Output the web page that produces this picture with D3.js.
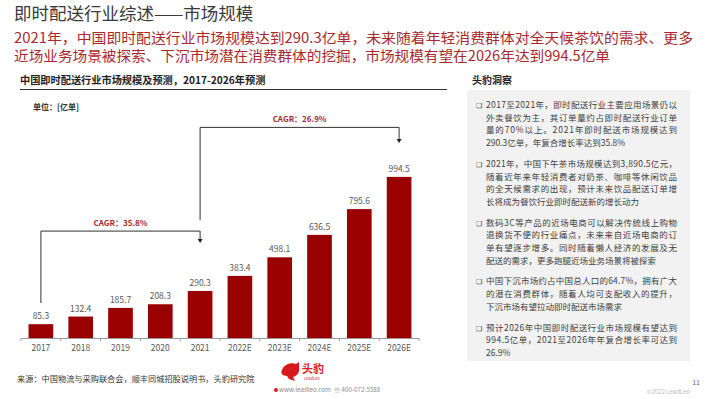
<!DOCTYPE html>
<html>
<head>
<meta charset="utf-8">
<script src="https://cdn.jsdelivr.net/npm/d3@7"></script>
<style>
  body { margin: 0; background: #fff; }
  text { font-family: "Noto Sans CJK SC", "Noto Sans", sans-serif; }
</style>
</head>
<body>
<script>
// chart data
const years = ['2017', '2018', '2019', '2020', '2021', '2022E', '2023E', '2024E', '2025E', '2026E'];
const orders = [85.3, 132.4, 185.7, 208.3, 290.3, 383.4, 498.1, 636.5, 795.6, 994.5];

const cagrText = ['CAGR：35.8%', 'CAGR：26.9%'];
const cagrFrom = ['2017', '2021'];
const cagrTo = ['2021', '2026E'];

const titleText = '即时配送行业综述——市场规模';
const summaryLines = [
    '2021年，中国即时配送行业市场规模达到290.3亿单，未来随着年轻消费群体对全天候茶饮的需求、更多',
    '近场业务场景被探索、下沉市场潜在消费群体的挖掘，市场规模有望在2026年达到994.5亿单'
];
const chartTitle = '中国即时配送行业市场规模及预测，2017-2026年预测';
const unitText = '单位：[亿单]';

const insightTitle = '头豹洞察';
const insights = [
    ['2017至2021年，即时配送行业主要应用场景仍以',
     '外卖餐饮为主，其订单量约占即时配送行业订单',
     '量的70%以上。2021年即时配送市场规模达到',
     '290.3亿单，年复合增长率达到35.8%'],
    ['2021年，中国下午茶市场规模达到3,890.5亿元，',
     '随着近年来年轻消费者对奶茶、咖啡等休闲饮品',
     '的全天候需求的出现，预计未来饮品配送订单增',
     '长将成为餐饮行业即时配送新的增长动力'],
    ['数码3C等产品的近场电商可以解决传统线上购物',
     '退换货不便的行业痛点，未来来自近场电商的订',
     '单有望逐步增多。同时随着懒人经济的发展及无',
     '配送的需求，更多跑腿近场业务场景将被探索'],
    ['中国下沉市场约占中国总人口的64.7%，拥有广大',
     '的潜在消费群体，随着人均可支配收入的提升，',
     '下沉市场有望拉动即时配送市场需求'],
    ['预计2026年中国即时配送行业市场规模有望达到',
     '994.5亿单，2021至2026年年复合增长率可达到',
     '26.9%']
];

const sourceText = '来源：中国物流与采购联合会，顺丰同城招股说明书，头豹研究院';

const W = 710, H = 399;
const barColor = '#9b0000';
const red = '#a8282c';

const svg = d3.select('body').append('svg')
    .attr('width', W)
    .attr('height', H);

svg.append('rect').attr('width', W).attr('height', H).attr('fill', '#fff');

// header
svg.append('text')
    .attr('x', 14).attr('y', 20)
    .attr('font-size', 17.5)
    .attr('fill', '#3a3a3a')
    .text(titleText);

svg.selectAll('.summary')
    .data(summaryLines)
    .enter()
    .append('text')
    .attr('class', 'summary')
    .attr('x', 14)
    .attr('y', (d, i) => 43 + i * 18)
    .attr('font-size', 13.8)
    .attr('fill', red)
    .attr('textLength', (d, i) => i === 0 ? 679 : 596)
    .attr('lengthAdjust', 'spacingAndGlyphs')
    .text(d => d);

// chart header
svg.append('text')
    .attr('x', 20).attr('y', 84)
    .attr('font-size', 10.2)
    .attr('font-weight', 'bold')
    .attr('fill', '#222')
    .text(chartTitle);

svg.append('line')
    .attr('x1', 20).attr('x2', 447)
    .attr('y1', 89.5).attr('y2', 89.5)
    .attr('stroke', '#333');

svg.append('text')
    .attr('x', 33).attr('y', 110)
    .attr('font-size', 8)
    .attr('font-weight', 'bold')
    .attr('fill', '#333')
    .text(unitText);

// scales
const x = d3.scaleBand()
    .domain(years)
    .range([21, 419])
    .paddingInner(0.38)
    .paddingOuter(0.19);

const y = d3.scaleLinear()
    .domain([0, 1000])
    .range([338, 176]);

svg.selectAll('.bar')
    .data(orders)
    .enter()
    .append('rect')
    .attr('class', 'bar')
    .attr('x', (d, i) => x(years[i]))
    .attr('y', d => y(d))
    .attr('width', x.bandwidth())
    .attr('height', d => y(0) - y(d))
    .attr('fill', barColor);

svg.selectAll('.val')
    .data(orders)
    .enter()
    .append('text')
    .attr('class', 'val')
    .attr('x', (d, i) => x(years[i]) + x.bandwidth() / 2)
    .attr('y', d => y(d) - 5)
    .attr('text-anchor', 'middle')
    .attr('font-size', 8.5)
    .attr('fill', '#595959')
    .text(d => d.toFixed(1));

// x axis
const xAxis = d3.axisBottom(x).tickSize(0).tickPadding(7);
const gx = svg.append('g')
    .attr('transform', 'translate(0,' + y(0) + ')')
    .call(xAxis);
gx.select('.domain').attr('stroke', '#999');
gx.selectAll('text')
    .attr('font-size', 8.5)
    .attr('fill', '#595959')
    .style('font-family', '"Noto Sans CJK SC", sans-serif');

const bounds = d3.range(years.length + 1).map(i => x.range()[0] + i * x.step());
gx.selectAll('.bound')
    .data(bounds)
    .enter()
    .append('line')
    .attr('class', 'bound')
    .attr('x1', d => d).attr('x2', d => d)
    .attr('y1', 0).attr('y2', 3)
    .attr('stroke', '#999');

// CAGR brackets (levels in data units)
const cagrStart = [216, 728];
const cagrLevel = [660, 1300];
const cagrEnd = [586, 1204];

cagrText.forEach(function (label, i) {
    const x0 = x(cagrFrom[i]) + x.bandwidth() / 2;
    const x1 = x(cagrTo[i]) + x.bandwidth() / 2;
    const yl = y(cagrLevel[i]);
    const ye = y(cagrEnd[i]);
    svg.append('path')
        .attr('d', 'M' + x0 + ',' + y(cagrStart[i]) + 'V' + yl + 'H' + x1 + 'V' + (ye - 3))
        .attr('fill', 'none')
        .attr('stroke', '#333')
        .attr('stroke-width', 1);
    svg.append('path')
        .attr('d', 'M' + (x1 - 2.5) + ',' + (ye - 4) + 'L' + (x1 + 2.5) + ',' + (ye - 4) + 'L' + x1 + ',' + ye + 'Z')
        .attr('fill', '#222');
    svg.append('text')
        .attr('x', (x0 + x1) / 2)
        .attr('y', yl - 5)
        .attr('text-anchor', 'middle')
        .attr('font-size', 8)
        .attr('font-weight', 'bold')
        .attr('fill', red)
        .text(label);
});

// insight panel
svg.append('text')
    .attr('x', 472).attr('y', 84)
    .attr('font-size', 10)
    .attr('font-weight', 'bold')
    .attr('fill', '#222')
    .text(insightTitle);

svg.append('rect')
    .attr('x', 467).attr('y', 90)
    .attr('width', 223).attr('height', 271)
    .attr('fill', '#f2f2f2');

let lineY = 108;
insights.forEach(function (lines) {
    svg.append('text')
        .attr('x', 476).attr('y', lineY)
        .attr('font-size', 7)
        .attr('fill', '#333')
        .style('font-family', '"DejaVu Sans", sans-serif')
        .text('❑');
    lines.forEach(function (line, j) {
        const t = svg.append('text')
            .attr('x', 486).attr('y', lineY)
            .attr('font-size', 8.5)
            .attr('fill', '#404040')
            .text(line);
        if (j < lines.length - 1) {
            t.attr('textLength', 191).attr('lengthAdjust', 'spacing');
        }
        lineY += 12.7;
    });
    lineY += 8;
});

// footer
svg.append('text')
    .attr('x', 17).attr('y', 382)
    .attr('font-size', 8.2)
    .attr('fill', '#333')
    .text(sourceText);

const logo = svg.append('g').attr('transform', 'translate(281,362)');
logo.append('path')
    .attr('d', 'M1,8 C3,2 10,0 15,2 L18,0 L18,6 C19,10 16,14 12,15 L14,19 L8,17 L6,14 C2,14 -1,11 1,8 Z')
    .attr('fill', '#d7191c');
logo.append('text')
    .attr('x', 21).attr('y', 11)
    .attr('font-size', 11)
    .attr('font-weight', 'bold')
    .attr('fill', '#d7191c')
    .text('头豹');
logo.append('text')
    .attr('x', 23).attr('y', 17.5)
    .attr('font-size', 4)
    .attr('fill', '#d7191c')
    .text('LeadLeo');

svg.append('circle').attr('cx', 276).attr('cy', 390).attr('r', 2).attr('fill', '#d7191c');
svg.append('text')
    .attr('x', 279).attr('y', 392)
    .attr('font-size', 6.2)
    .attr('fill', '#8a8a8a')
    .text('www.leadleo.com');
svg.append('text')
    .attr('x', 334).attr('y', 392)
    .attr('font-size', 6.2)
    .attr('fill', '#8a8a8a')
    .text('☏ 400-072-5588');

svg.append('text')
    .attr('x', 700).attr('y', 385)
    .attr('text-anchor', 'end')
    .attr('font-size', 7)
    .attr('fill', '#666')
    .text('11');

svg.append('text')
    .attr('x', 690).attr('y', 394)
    .attr('text-anchor', 'end')
    .attr('font-size', 6)
    .attr('fill', '#bbb')
    .text('©2022 LeadLeo');
</script>
</body>
</html>
